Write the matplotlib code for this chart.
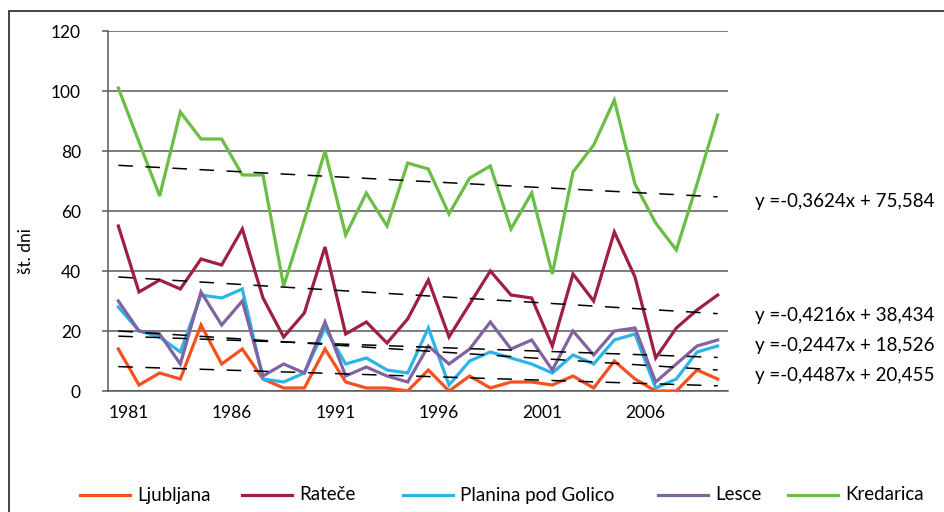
"""Number of days per year at five Slovenian stations, 1981-2010, with linear trends."""
import numpy as np
import matplotlib
matplotlib.use("Agg")
import matplotlib.pyplot as plt
from matplotlib.lines import Line2D
from matplotlib.patches import Rectangle

plt.rcParams["font.family"] = ["Lato", "DejaVu Sans"]
plt.rcParams["lines.scale_dashes"] = False

YEARS = list(range(1981, 2011))
TICK_YEARS = [1981, 1986, 1991, 1996, 2001, 2006]

STATIONS = ["Ljubljana", "Rateče", "Planina pod Golico", "Lesce", "Kredarica"]
LJUBLJANA = [14, 2, 6, 4, 22, 9, 14, 4, 1, 1, 14, 3, 1, 1, 0, 7, 0, 5, 1, 3, 3, 2, 5, 1, 10, 4, 0, 0, 7, 4]
RATECE = [55, 33, 37, 34, 44, 42, 54, 31, 18, 26, 48, 19, 23, 16, 24, 37, 18, 29, 40, 32, 31, 15, 39, 30, 53, 38, 11, 21, 27, 32]
PLANINA = [28, 20, 18, 13, 32, 31, 34, 4, 3, 6, 21, 9, 11, 7, 6, 21, 2, 10, 13, 11, 9, 6, 12, 9, 17, 19, 1, 4, 13, 15]
LESCE = [30, 20, 19, 9, 33, 22, 30, 5, 9, 6, 23, 5, 8, 5, 3, 15, 9, 14, 23, 14, 17, 7, 20, 12, 20, 21, 3, 9, 15, 17]
KREDARICA = [101, 83, 65, 93, 84, 84, 72, 72, 35, 57, 80, 52, 66, 55, 76, 74, 59, 71, 75, 54, 66, 39, 73, 82, 97, 69, 56, 47, 69, 92]

# Excel linear trendlines (x = 1..30); Ljubljana's equation is not shown in the original
TREND_SLOPE = [-0.2207, -0.4216, -0.4487, -0.2447, -0.3624]
TREND_INTERCEPT = [8.35, 38.434, 20.455, 18.526, 75.584]
# which trend equations are printed, top to bottom (indices into STATIONS)
LABEL_ORDER = [4, 1, 3, 2]

COLOURS = ["#F4511E", "#9E1F3F", "#2AB4E8", "#8064A2", "#6ABD45"]
GRID = "#595959"

W, H = 945, 512
fig = plt.figure(figsize=(W / 100, H / 100), dpi=100)
ax = fig.add_axes([108 / W, 1 - 391 / H, 620 / W, 360 / H])

series = [LJUBLJANA, RATECE, PLANINA, LESCE, KREDARICA]
x = np.arange(len(YEARS))
for vals, colour in zip(series, COLOURS):
    ax.plot(x, vals, color=colour, linewidth=2.3, solid_joinstyle="miter", zorder=3)

xt = x + 1
for slope, icpt in zip(TREND_SLOPE, TREND_INTERCEPT):
    ax.plot(x, icpt + slope * xt, color="black", linewidth=1.1, dashes=(10.5, 9), zorder=4)

ax.set_xlim(-0.5, len(YEARS) - 0.5)
ax.set_ylim(0, 120)
ax.set_yticks(range(0, 121, 20))
ax.yaxis.grid(True, color=GRID, linewidth=1.1)
ax.set_axisbelow(True)
ax.set_xticks([YEARS.index(y) + 0.5 for y in TICK_YEARS])
ax.set_xticklabels([str(y) for y in TICK_YEARS])
ax.tick_params(axis="y", length=4.5, width=1.1, color=GRID, pad=15, labelsize=12.5)
ax.tick_params(axis="x", length=0, pad=10, labelsize=12.5)
for side in ["top", "right"]:
    ax.spines[side].set_visible(False)
for side in ["left", "bottom"]:
    ax.spines[side].set_color(GRID)
    ax.spines[side].set_linewidth(1.1)

fig.text(26 / W, 1 - 251 / H, "št. dni", rotation=90, ha="center", va="center", fontsize=12.5)

# trendline equations, placed to the right of the plot as in the original
label_y = [202, 315, 346, 376]
for idx, yy in zip(LABEL_ORDER, label_y):
    s, b = TREND_SLOPE[idx], TREND_INTERCEPT[idx]
    txt = "y =-" + f"{abs(s):.4f}".replace(".", ",") + "x + " + f"{b:.3f}".replace(".", ",")
    fig.text(755 / W, 1 - yy / H, txt, ha="left", va="center", fontsize=13.5)

# legend along the bottom
leg_x = [80, 242, 403, 658, 788]
leg_y = 1 - 495 / H
for lx, name, colour in zip(leg_x, STATIONS, COLOURS):
    fig.add_artist(Line2D([lx / W, (lx + 50) / W], [leg_y, leg_y], color=colour,
                          linewidth=2.3, transform=fig.transFigure))
    fig.text((lx + 57) / W, leg_y, name, ha="left", va="center", fontsize=13.5)

# outer chart border
fig.add_artist(Rectangle((9 / W, -0.2), 1.2, 1.2 - 11 / H, transform=fig.transFigure,
                         fill=False, edgecolor="#262626", linewidth=1.2))

fig.savefig("out.png", dpi=100)
